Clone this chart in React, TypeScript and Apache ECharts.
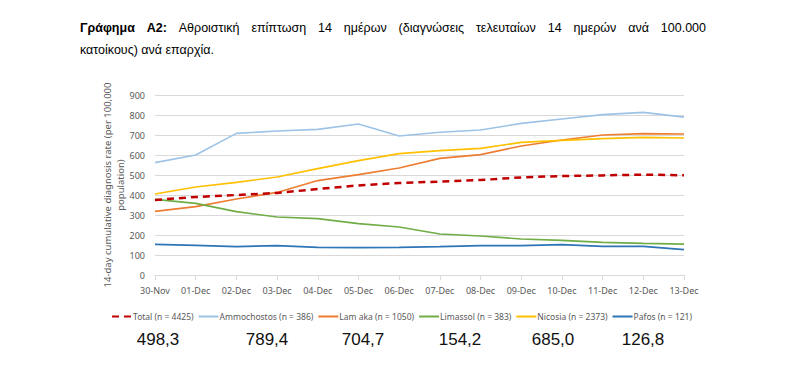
import React, { useEffect, useRef } from "react";
import * as echarts from "echarts";

const categories = ["30-Nov", "01-Dec", "02-Dec", "03-Dec", "04-Dec", "05-Dec", "06-Dec", "07-Dec", "08-Dec", "09-Dec", "10-Dec", "11-Dec", "12-Dec", "13-Dec"];
const total = [375, 390, 400, 410, 430, 448, 460, 467, 475, 488, 495, 498, 502, 498.3];
const ammochostos = [562, 600, 708, 720, 728, 755, 695, 714, 725, 758, 780, 802, 813, 789.4];
const larnaka = [318, 342, 380, 413, 472, 502, 535, 583, 602, 645, 675, 700, 707, 704.7];
const limassol = [378, 358, 317, 290, 282, 257, 240, 205, 195, 180, 173, 163, 158, 154.2];
const nicosia = [405, 440, 463, 490, 532, 572, 607, 622, 633, 663, 673, 682, 688, 685.0];
const pafos = [153, 148, 142, 147, 138, 137, 138, 142, 147, 147, 152, 143, 143, 126.8];
const seriesNames = ["Total (n = 4425)", "Ammochostos (n = 386)", "Lam aka (n = 1050)", "Limassol (n = 383)", "Nicosia (n = 2373)", "Pafos (n = 121)"];
const finalLabels = ["498,3", "789,4", "704,7", "154,2", "685,0", "126,8"];
const finalCentersX = [158, 267, 363, 460, 553, 643];
const yTicks = { min: 0, max: 900, interval: 100 };
const titleBold = "Γράφημα Α2:";
const titleLine1 = "Αθροιστική επίπτωση 14 ημέρων (διαγνώσεις τελευταίων 14 ημερών ανά 100.000";
const titleLine2 = "κατοίκους) ανά επαρχία.";
const yAxisTitle = "14-day cumulative diagnosis rate (per 100,000\npopulation)";

export default function App() {
  const ref = useRef<HTMLDivElement>(null);
  useEffect(() => {
    if (!ref.current) return;
    const chart = echarts.init(ref.current, null, { renderer: "svg" });
    const font = "Liberation Sans, Arial, sans-serif";
    const canvas = document.createElement("canvas");
    const ctx = canvas.getContext("2d")!;
    const words: { t: string; bold: boolean }[] = [];
    titleBold.split(" ").forEach((w) => words.push({ t: w, bold: true }));
    titleLine1.split(" ").forEach((w) => words.push({ t: w, bold: false }));
    const widths = words.map((w) => {
      ctx.font = (w.bold ? "bold " : "") + "12.5px 'Liberation Sans'";
      return ctx.measureText(w.t).width;
    });
    const left = 80, right = 706;
    const sum = widths.reduce((a, b) => a + b, 0);
    const gap = (right - left - sum) / (words.length - 1);
    let cx = left;
    const titleEls: any[] = words.map((w, i) => {
      const el = {
        type: "text",
        x: cx,
        y: 28,
        style: { text: w.t, font: (w.bold ? "bold " : "") + "12.5px " + font, fill: "#000", textVerticalAlign: "middle" },
      };
      cx += widths[i] + gap;
      return el;
    });
    titleEls.push({
      type: "text",
      x: left,
      y: 50,
      style: { text: titleLine2, font: "12.5px " + font, fill: "#000", textVerticalAlign: "middle" },
    });
    const numEls = finalLabels.map((t, i) => ({
      type: "text",
      x: finalCentersX[i],
      y: 339,
      style: { text: t, font: "17px " + font, fill: "#111", textAlign: "center", textVerticalAlign: "middle" },
    }));
    const colors = ["#C00000", "#9DC3E6", "#ED7D31", "#70AD47", "#FFC000", "#2E75B6"];
    const data = [total, ammochostos, larnaka, limassol, nicosia, pafos];
    const labelFont = "Noto Sans, sans-serif";
    chart.setOption({
      animation: false,
      backgroundColor: "#fff",
      grid: { left: 155, right: 118, top: 95, bottom: 116 },
      xAxis: {
        type: "category",
        data: categories,
        boundaryGap: false,
        axisLine: { lineStyle: { color: "#d9d9d9" } },
        axisTick: { show: true, lineStyle: { color: "#d9d9d9" } },
        axisLabel: { color: "#595959", fontSize: 9, fontFamily: labelFont, margin: 11 },
      },
      yAxis: {
        type: "value",
        min: yTicks.min,
        max: yTicks.max,
        interval: yTicks.interval,
        axisLine: { show: false },
        axisTick: { show: false },
        splitLine: { lineStyle: { color: "#d9d9d9" } },
        axisLabel: { color: "#595959", fontSize: 9, fontFamily: labelFont, margin: 10 },
        name: yAxisTitle,
        nameLocation: "middle",
        nameGap: 28,
        nameMoveOverlap: false,
        nameTextStyle: { color: "#595959", fontSize: 9.5, fontFamily: labelFont, lineHeight: 13 },
      },
      legend: {
        left: 106,
        top: 307,
        itemWidth: 20,
        itemHeight: 8,
        itemGap: 4,
        itemStyle: { opacity: 0 },
        textStyle: { color: "#595959", fontSize: 8.5, fontFamily: labelFont, padding: [0, 0, 0, -4] },
        data: seriesNames,
      },
      series: data.map((d, i) => ({
        name: seriesNames[i],
        type: "line",
        data: d,
        symbol: "none",
        smooth: false,
        z: i === 0 ? 10 : 2,
        color: colors[i],
        lineStyle: i === 0 ? { color: colors[i], width: 2.5, type: [7, 5] } : { color: colors[i], width: 1.6 },
      })),
      graphic: [...titleEls, ...numEls],
    });
    return () => chart.dispose();
  }, []);
  return <div ref={ref} style={{ width: 802, height: 391, position: "absolute", left: 0, top: 0 }} />;
}
